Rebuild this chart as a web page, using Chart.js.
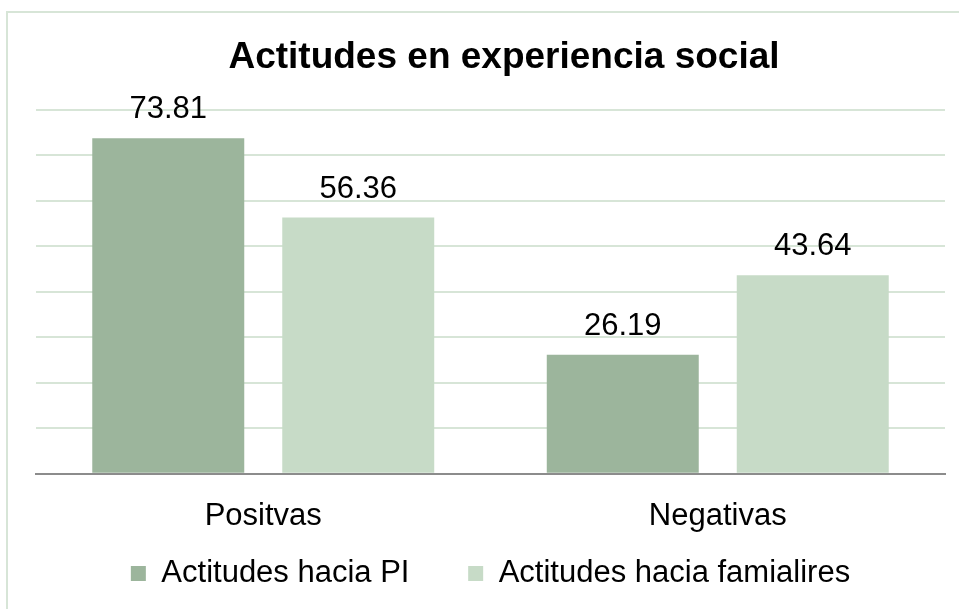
<!DOCTYPE html>
<html>
<head>
<meta charset="utf-8">
<script src="https://cdn.jsdelivr.net/npm/chart.js@4/dist/chart.umd.min.js"></script>
<style>
    body { margin: 0; background: #fff; overflow: hidden; }
    #wrap { position: relative; width: 959px; height: 609px; }
    #frame {
        position: absolute; left: 6px; top: 11px; width: 980px; height: 640px;
        border: 2px solid #d7e5d7; box-sizing: border-box; pointer-events: none;
    }
    canvas { position: absolute; left: 0; top: 0; }
</style>
</head>
<body>
<div id="wrap">
    <canvas id="chart" width="959" height="609"></canvas>
    <div id="frame"></div>
</div>
<script>
const categories = ["Positvas", "Negativas"];
const seriesNames = ["Actitudes hacia PI", "Actitudes hacia famialires"];
const valuesPI = [73.81, 26.19];
const valuesFam = [56.36, 43.64];
const colors = ["#9cb59c", "#c7dbc7"];
const chartTitle = "Actitudes en experiencia social";

const FONT = '"Liberation Sans", Arial, sans-serif';

// numbers above each bar + the title (drawn by hand so it sits a bit right of centre)
const valueLabels = {
    id: 'valueLabels',
    afterDatasetsDraw(chart) {
        const ctx = chart.ctx;
        ctx.save();
        ctx.font = '31px ' + FONT;
        ctx.fillStyle = '#000';
        ctx.textAlign = 'center';
        ctx.textBaseline = 'alphabetic';
        chart.data.datasets.forEach((ds, i) => {
            chart.getDatasetMeta(i).data.forEach((bar, j) => {
                ctx.fillText(ds.data[j].toFixed(2), bar.x, bar.y - 20);
            });
        });

        ctx.font = 'bold 37px ' + FONT;
        ctx.textBaseline = 'middle';
        ctx.fillText(chartTitle, 504, 58);
        ctx.restore();
    }
};

const ctx = document.getElementById('chart').getContext('2d');
new Chart(ctx, {
    type: 'bar',
    data: {
        labels: categories,
        datasets: [
            // trailing spaces widen the gap between the two legend entries
            {label: seriesNames[0] + '      ', data: valuesPI, backgroundColor: colors[0]},
            {label: seriesNames[1], data: valuesFam, backgroundColor: colors[1]}
        ]
    },
    options: {
        responsive: false,
        animation: false,
        categoryPercentage: 0.836,
        barPercentage: 0.8,
        layout: {padding: {left: 36, right: 14, top: 110, bottom: 10}},
        plugins: {
            title: {display: false},
            legend: {
                position: 'bottom',
                labels: {
                    color: '#000',
                    boxWidth: 15,
                    boxHeight: 15,
                    padding: 7,
                    font: {family: FONT, size: 31}
                }
            },
            tooltip: {enabled: false}
        },
        scales: {
            x: {
                grid: {display: false},
                border: {color: '#8c8c8c', width: 2},
                ticks: {
                    color: '#000',
                    padding: 16,
                    font: {family: FONT, size: 31}
                }
            },
            y: {
                min: 0,
                max: 80,
                ticks: {stepSize: 10, display: false},
                border: {display: false},
                grid: {color: '#d7e5d7', lineWidth: 2, drawTicks: false}
            }
        }
    },
    plugins: [valueLabels]
});
</script>
</body>
</html>
